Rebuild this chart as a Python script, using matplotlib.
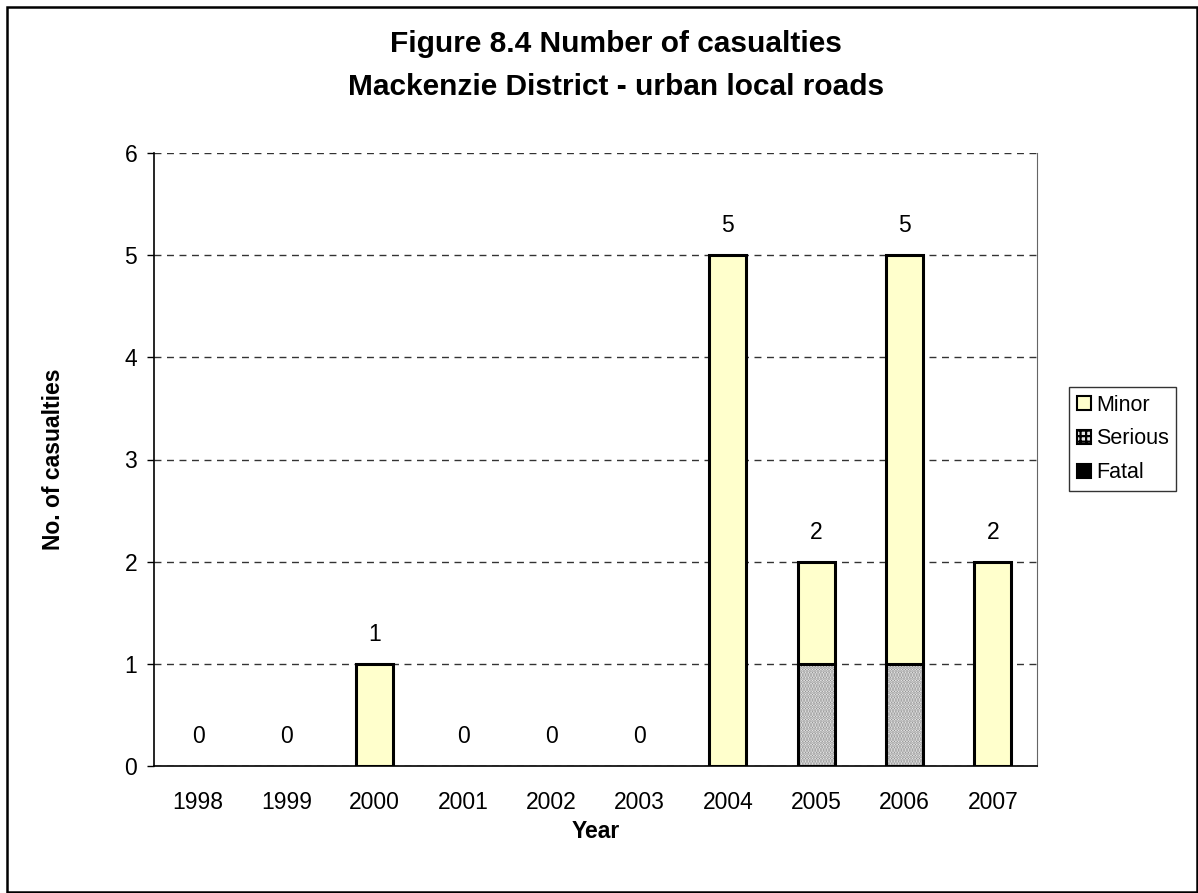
import numpy as np
import matplotlib.pyplot as plt
from matplotlib.patches import Patch, Rectangle

years = ["1998", "1999", "2000", "2001", "2002", "2003", "2004", "2005", "2006", "2007"]
fatal = [0, 0, 0, 0, 0, 0, 0, 0, 0, 0]
serious = [0, 0, 0, 0, 0, 0, 0, 1, 1, 0]
minor = [0, 0, 1, 0, 0, 0, 5, 1, 4, 2]

plt.rcParams["font.family"] = ["Liberation Sans", "DejaVu Sans"]
plt.rcParams["hatch.linewidth"] = 1.6

W, H = 1198, 893
fig = plt.figure(figsize=(W / 100, H / 100), dpi=100)
ax = fig.add_axes([154 / W, 1 - 766 / H, (1037 - 154) / W, (766 - 153) / H])

x = np.arange(len(years))
fatal = np.array(fatal)
serious = np.array(serious)
minor = np.array(minor)
total = fatal + serious + minor
w = 0.42

# grid
ax.set_axisbelow(True)
ax.yaxis.grid(True, linestyle=(0, (5, 4)), color="#333333", linewidth=1.0)

edge = dict(edgecolor="black", linewidth=2.2)
# only draw non-zero segments (Excel shows nothing for zero)
m = fatal > 0
ax.bar(x[m], fatal[m], w, color="black", **edge)
m = serious > 0
ax.bar(x[m], serious[m], w, bottom=fatal[m], color="white", hatch="......",
       edgecolor="#8a8a8a", linewidth=0)
ax.bar(x[m], serious[m], w, bottom=fatal[m], fill=False, **edge)
m = minor > 0
ax.bar(x[m], minor[m], w, bottom=(fatal + serious)[m], color="#FFFFCC", **edge)

for xi, t in zip(x, total):
    ax.annotate(str(t), (xi, t), xytext=(0, 13), textcoords="offset points",
                ha="center", va="bottom", fontsize=16.5)

ax.set_xlim(-0.5, len(years) - 0.5)
ax.set_ylim(0, 6)
ax.set_yticks(range(0, 7))
ax.set_xticks(x)
ax.set_xticklabels(years)
ax.tick_params(axis="x", length=0, pad=18, labelsize=16.5)
ax.tick_params(axis="y", length=5, width=1, pad=7, labelsize=16.5)

ax.spines["top"].set_visible(False)
ax.spines["right"].set_color("#666666")
ax.spines["left"].set_linewidth(1.2)
ax.spines["bottom"].set_linewidth(1.2)

ax.set_xlabel("Year", fontsize=16.5, fontweight="bold", labelpad=4)
ax.set_ylabel("No. of casualties", fontsize=16.5, fontweight="bold", labelpad=43)

fig.text(616 / W, 1 - 44 / H, "Figure 8.4 Number of casualties", ha="center", va="center",
         fontsize=21.5, fontweight="bold")
fig.text(616 / W, 1 - 87 / H, "Mackenzie District - urban local roads", ha="center", va="center",
         fontsize=21.5, fontweight="bold")

handles = [
    Patch(facecolor="#FFFFCC", edgecolor="black", linewidth=1.5, label="Minor"),
    Patch(facecolor="#e8e8e8", edgecolor="black", hatch="+++", linewidth=1.5, label="Serious"),
    Patch(facecolor="black", edgecolor="black", linewidth=1.5, label="Fatal"),
]
leg = fig.legend(handles=handles, loc="upper left", bbox_to_anchor=(1069 / W, 1 - 387 / H),
                 fontsize=15.5, frameon=True, fancybox=False, edgecolor="black",
                 handlelength=0.65, handleheight=0.65, handletextpad=0.25,
                 labelspacing=0.6, borderpad=0.35, borderaxespad=0)
leg.get_frame().set_linewidth(1.0)

# outer chart border
fig.add_artist(Rectangle((7 / W, 1.5 / H), 1 - 8.5 / W, 1 - 8.5 / H, transform=fig.transFigure,
                         fill=False, edgecolor="black", linewidth=1.8))

fig.savefig("out.png", dpi=100)
